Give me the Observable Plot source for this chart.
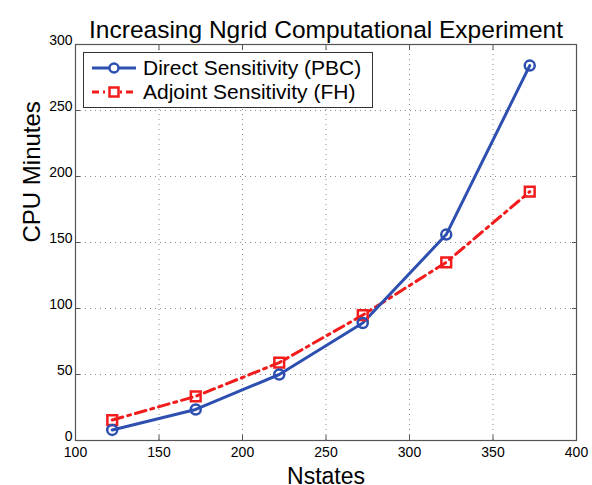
<!DOCTYPE html>
<html>
<head>
<meta charset="utf-8">
<script src="https://cdn.jsdelivr.net/npm/d3@7"></script>
<script src="https://cdn.jsdelivr.net/npm/@observablehq/plot@0.6"></script>
<style>
  html, body { margin: 0; padding: 0; background: #fff; }
  #wrap { position: relative; width: 592px; height: 485px; font-family: "Liberation Sans", Arial, sans-serif; }
  #legend { position: absolute; left: 83px; top: 52px; width: 290px; height: 56px; border: 1px solid #333; background: #fff; box-sizing: border-box; }
  .row { position: absolute; left: 0; height: 24px; display: flex; align-items: center; font-size: 21px; color: #000; white-space: nowrap; }
  .row svg { margin-left: 7px; margin-right: 6px; }
</style>
</head>
<body>
<div id="wrap"></div>
<script>
const title = "Increasing Ngrid Computational Experiment";
const xLabel = "Nstates";
const yLabel = "CPU Minutes";
const nstates = [122, 172, 222, 272, 322, 372];
const directMinutes = [8, 23.5, 50, 89, 156, 284];
const adjointMinutes = [15.5, 33.5, 59, 95, 135, 188.5];
const seriesNames = ["Direct Sensitivity (PBC)", "Adjoint Sensitivity (FH)"];
const xTicks = [100, 150, 200, 250, 300, 350, 400];
const yTicks = [0, 50, 100, 150, 200, 250, 300];

const blue = "#2d4fb0";
const red = "#f21c1c";
const direct = nstates.map((x, i) => ({x, y: directMinutes[i]}));
const adjoint = nstates.map((x, i) => ({x, y: adjointMinutes[i]}));

const plot = Plot.plot({
  width: 592,
  height: 485,
  marginLeft: 75,
  marginRight: 16,
  marginTop: 44,
  marginBottom: 45,
  style: {fontFamily: "Liberation Sans, Arial, sans-serif", fontSize: "14px", color: "#000", background: "#fff"},
  x: {domain: [100, 400], ticks: xTicks},
  y: {domain: [0, 300], ticks: yTicks},
  marks: [
    Plot.gridX(xTicks.slice(1, -1), {stroke: "#888", strokeOpacity: 1, strokeDasharray: "1,4", strokeWidth: 1}),
    Plot.gridY(yTicks.slice(1, -1), {stroke: "#888", strokeOpacity: 1, strokeDasharray: "1,4", strokeWidth: 1}),
    Plot.axisX(xTicks, {anchor: "bottom", tickSize: -5, tickPadding: 12, stroke: "#555", label: null, fontSize: 14}),
    Plot.axisX(xTicks, {anchor: "top", tickSize: -5, tickFormat: () => "", stroke: "#555", label: null}),
    Plot.axisY(yTicks, {anchor: "left", tickSize: -5, tickFormat: () => "", stroke: "#555", label: null}),
    Plot.axisY(yTicks, {anchor: "left", tickSize: 0, tickPadding: 3, dy: -4, label: null, fontSize: 14}),
    Plot.axisY(yTicks, {anchor: "right", tickSize: -5, tickFormat: () => "", stroke: "#555", label: null}),
    Plot.frame({stroke: "#555", strokeWidth: 1.2}),
    Plot.line(adjoint, {x: "x", y: "y", stroke: red, strokeWidth: 3, strokeDasharray: "11,5,3,5"}),
    Plot.line(direct, {x: "x", y: "y", stroke: blue, strokeWidth: 3}),
    Plot.dot(adjoint, {x: "x", y: "y", symbol: "square", r: 5.5, stroke: red, strokeWidth: 2.5, fill: "none"}),
    Plot.dot(direct, {x: "x", y: "y", symbol: "circle", r: 5, stroke: blue, strokeWidth: 2.5, fill: "none"}),
    Plot.text([title], {frameAnchor: "top", dy: -24, fontSize: 24.5, fill: "#000"}),
    Plot.text([xLabel], {frameAnchor: "bottom", lineAnchor: "bottom", dy: 43, fontSize: 23, fill: "#000"}),
    Plot.text([yLabel], {frameAnchor: "left", dx: -43, rotate: -90, fontSize: 24, fill: "#000"})
  ]
});

const wrap = document.getElementById("wrap");
wrap.appendChild(plot);

const legend = document.createElement("div");
legend.id = "legend";
const styles = [
  {color: blue, dash: null, sym: "circle"},
  {color: red, dash: "7,4,2,4", sym: "square"}
];
seriesNames.forEach((name, i) => {
  const row = document.createElement("div");
  row.className = "row";
  row.style.top = (3 + i * 24) + "px";
  const s = styles[i];
  const ns = "http://www.w3.org/2000/svg";
  const svg = document.createElementNS(ns, "svg");
  svg.setAttribute("width", 46);
  svg.setAttribute("height", 20);
  const ln = document.createElementNS(ns, "line");
  ln.setAttribute("x1", 1); ln.setAttribute("x2", 45); ln.setAttribute("y1", 10); ln.setAttribute("y2", 10);
  ln.setAttribute("stroke", s.color); ln.setAttribute("stroke-width", 3);
  if (s.dash) ln.setAttribute("stroke-dasharray", s.dash);
  svg.appendChild(ln);
  let m;
  if (s.sym === "circle") {
    m = document.createElementNS(ns, "circle");
    m.setAttribute("cx", 23); m.setAttribute("cy", 10); m.setAttribute("r", 4.5);
  } else {
    m = document.createElementNS(ns, "rect");
    m.setAttribute("x", 18.5); m.setAttribute("y", 5.5); m.setAttribute("width", 9); m.setAttribute("height", 9);
  }
  m.setAttribute("fill", "#fff"); m.setAttribute("stroke", s.color); m.setAttribute("stroke-width", 2.5);
  svg.appendChild(m);
  row.appendChild(svg);
  const t = document.createElement("span");
  t.textContent = name;
  row.appendChild(t);
  legend.appendChild(row);
});
wrap.appendChild(legend);
</script>
</body>
</html>
